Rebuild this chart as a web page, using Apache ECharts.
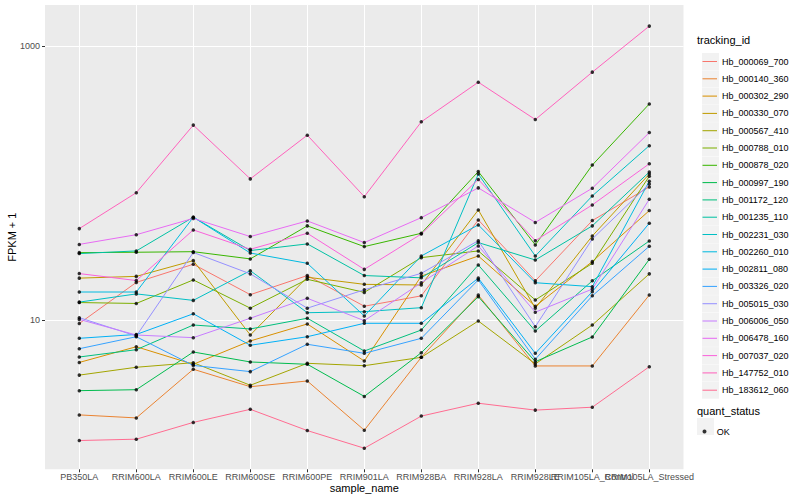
<!DOCTYPE html>
<html><head><meta charset="utf-8">
<script src="https://cdn.jsdelivr.net/npm/echarts@6/dist/echarts.min.js"></script>
<style>html,body{margin:0;padding:0;background:#fff}#c{width:800px;height:500px}</style>
</head><body><div id="c"></div>
<script>
const categories = ['PB350LA','RRIM600LA','RRIM600LE','RRIM600SE','RRIM600PE','RRIM901LA','RRIM928BA','RRIM928LA','RRIM928LE','RRIM105LA_Control','RRIM105LA_Stressed'];
const trackingIds = ['Hb_000069_700','Hb_000140_360','Hb_000302_290','Hb_000330_070','Hb_000567_410','Hb_000788_010','Hb_000878_020','Hb_000997_190','Hb_001172_120','Hb_001235_110','Hb_002231_030','Hb_002260_010','Hb_002811_080','Hb_003326_020','Hb_005015_030','Hb_006006_050','Hb_006478_160','Hb_007037_020','Hb_147752_010','Hb_183612_060'];
const colors = ['#F8766D','#EA8331','#D89000','#C09B00','#A3A500','#7CAE00','#39B600','#00BB4E','#00BF7D','#00C1A3','#00BFC4','#00BAE0','#00B0F6','#35A2FF','#9590FF','#C77CFF','#E76BF3','#FA62DB','#FF62BC','#FF6C91'];
const yTickLabels = [10, 1000];

// FPKM + 1 values per tracking_id, in category order
const hb000069_700 = [9.43, 18.8, 25.5, 15.3, 21.1, 12.6, 15.0, 53.7, 19.3, 53.1, 93.5];
const hb000140_360 = [2.03, 1.93, 4.37, 3.26, 3.59, 1.57, 5.34, 15.2, 4.62, 4.62, 15.2];
const hb000302_290 = [4.90, 6.38, 4.75, 7.03, 9.35, 5.02, 20.9, 29.3, 12.6, 26.7, 62.8];
const hb000330_070 = [20.2, 20.8, 27.1, 7.77, 20.5, 18.2, 18.0, 63.5, 12.2, 41.0, 116];
const hb000567_410 = [3.96, 4.52, 4.88, 3.34, 4.83, 4.64, 5.34, 9.83, 4.78, 9.19, 21.7];
const hb000788_010 = [13.4, 13.2, 19.6, 12.2, 19.8, 15.9, 28.5, 31.9, 14.0, 25.9, 112];
const hb000878_020 = [31.0, 31.2, 31.5, 27.9, 48.6, 34.3, 42.9, 121, 35.3, 135, 377];
const hb000997_190 = [3.05, 3.10, 5.84, 4.94, 4.75, 2.77, 5.77, 14.8, 4.96, 7.52, 27.7];
const hb001172_120 = [5.37, 6.07, 9.19, 8.60, 10.3, 5.94, 8.45, 25.2, 8.31, 19.3, 37.7];
const hb001235_110 = [30.5, 31.9, 56.2, 32.1, 35.9, 21.1, 20.3, 36.7, 27.4, 48.6, 120];
const hb002231_030 = [13.5, 15.5, 13.9, 22.9, 11.3, 11.5, 12.3, 116, 29.3, 80.4, 187];
const hb002260_010 = [16.0, 16.0, 56.2, 30.8, 25.9, 10.7, 29.3, 49.4, 18.7, 17.5, 103];
const hb002811_080 = [7.35, 7.84, 11.1, 6.54, 7.55, 9.46, 9.46, 20.2, 5.71, 16.1, 50.8];
const hb003326_020 = [6.17, 7.55, 4.66, 4.20, 6.65, 5.71, 7.35, 19.6, 5.17, 15.0, 34.5];
const hb005015_030 = [10.4, 7.64, 31.1, 21.7, 12.2, 16.6, 21.9, 37.9, 8.94, 39.0, 98.3];
const hb006006_050 = [10.1, 7.77, 7.43, 10.3, 14.4, 9.88, 18.7, 34.7, 11.4, 16.8, 76.0];
const hb006478_160 = [35.6, 41.9, 55.1, 40.6, 52.8, 36.7, 55.8, 92.0, 51.5, 91.5, 233];
const hb007037_020 = [21.8, 19.4, 45.4, 32.8, 42.9, 23.4, 42.4, 106, 37.9, 69.1, 138];
const hb147752_010 = [46.4, 84.9, 264, 107, 223, 79.4, 279, 543, 290, 643, 1393];
const hb183612_060 = [1.32, 1.35, 1.79, 2.23, 1.56, 1.16, 1.99, 2.47, 2.20, 2.31, 4.56];

const seriesValues = [hb000069_700, hb000140_360, hb000302_290, hb000330_070, hb000567_410, hb000788_010, hb000878_020, hb000997_190, hb001172_120, hb001235_110, hb002231_030, hb002260_010, hb002811_080, hb003326_020, hb005015_030, hb006006_050, hb006478_160, hb007037_020, hb147752_010, hb183612_060];

const yMin = 0.814, yMax = 1986;
const FONT = 'Liberation Sans, Arial, Helvetica, sans-serif';

const lineSeries = trackingIds.map((name, i) => ({
  name: name,
  type: 'line',
  xAxisIndex: 0, yAxisIndex: 0,
  data: seriesValues[i],
  symbol: 'none', showSymbol: false,
  itemStyle: { color: colors[i] },
  lineStyle: { color: colors[i], width: 1 },
  emphasis: { disabled: true },
  z: 2
}));

const points = [];
seriesValues.forEach(vals => vals.forEach((v, j) => points.push([j, v])));

const chart = echarts.init(document.getElementById('c'), null, { renderer: 'svg' });
chart.setOption({
  animation: false,
  textStyle: { fontFamily: FONT },
  grid: [
    { left: 79.3, top: 5, width: 570, height: 464.3, outerBoundsMode: 'none', containLabel: false },
    { left: 45, top: 5, width: 638.5, height: 464.3, show: true, backgroundColor: '#EBEBEB', borderWidth: 0, outerBoundsMode: 'none', containLabel: false }
  ],
  xAxis: [
    { type: 'category', gridIndex: 0, data: categories, boundaryGap: false,
      axisLine: { show: false },
      axisTick: { show: true, length: 3, lineStyle: { color: '#333333', width: 1 } },
      axisLabel: { interval: 0, fontSize: 9, color: '#4D4D4D', margin: 3, fontFamily: FONT },
      splitLine: { show: true, lineStyle: { color: '#FFFFFF', width: 1 } },
      name: 'sample_name', nameLocation: 'middle', nameGap: 13, nameMoveOverlap: false,
      nameTextStyle: { fontSize: 11, color: '#000', fontFamily: FONT }, z: 1 },
    { type: 'value', gridIndex: 1, show: false, min: 0, max: 1 }
  ],
  yAxis: [
    { type: 'log', gridIndex: 0, min: yMin, max: yMax, show: false, splitLine: { show: false } },
    { type: 'log', gridIndex: 1, min: yMin, max: yMax,
      axisLine: { show: false },
      axisTick: { show: true, length: 3, customValues: yTickLabels, lineStyle: { color: '#333333', width: 1 } },
      axisLabel: { fontSize: 9, color: '#4D4D4D', margin: 5, fontFamily: FONT,
        formatter: v => (yTickLabels.some(t => Math.abs(v - t) < 1e-6 * t) ? String(Math.round(v)) : '') },
      splitLine: { show: true, lineStyle: { color: '#FFFFFF', width: 1 } },
      name: 'FPKM + 1', nameLocation: 'middle', nameRotate: 90, nameGap: 27.5, nameMoveOverlap: false,
      nameTextStyle: { fontSize: 11, color: '#000', fontFamily: FONT } }
  ],
  legend: [
    { data: trackingIds, orient: 'vertical', left: 697.5, top: 48, itemWidth: 14.5, itemHeight: 17, itemGap: 0.3,
      icon: 'path://M0,0 L17,0 L17,1.2 L0,1.2 Z',
      textStyle: { fontSize: 9, color: '#000', fontFamily: FONT, lineHeight: 17 },
      selectedMode: false, z: 5 },
    { data: trackingIds, orient: 'vertical', left: 697, top: 48, itemWidth: 17, itemHeight: 17, itemGap: 0.3,
      icon: 'rect', itemStyle: { color: '#F2F2F2', borderWidth: 0 }, formatter: () => '',
      textStyle: { fontSize: 9 }, selectedMode: false, z: 3 },
    { data: ['OK'], orient: 'vertical', left: 697.5, top: 418, itemWidth: 14.5, itemHeight: 4,
      icon: 'circle',
      itemStyle: { color: '#000' },
      textStyle: { fontSize: 9, color: '#000', fontFamily: FONT, lineHeight: 17 },
      selectedMode: false, z: 5 }
  ],
  graphic: [
    { type: 'rect', left: 697, top: 418, shape: { width: 17, height: 17 }, style: { fill: '#F2F2F2' }, z: 1 },
    { type: 'text', left: 697, top: 34.5, style: { text: 'tracking_id', fontSize: 11, fill: '#000', font: '11px ' + FONT } },
    { type: 'text', left: 697, top: 405.5, style: { text: 'quant_status', fontSize: 11, fill: '#000', font: '11px ' + FONT } }
  ],
  series: lineSeries.concat([{
    name: 'OK', type: 'scatter', xAxisIndex: 0, yAxisIndex: 0,
    data: points, symbol: 'circle', symbolSize: 3.5,
    itemStyle: { color: '#000' }, emphasis: { disabled: true }, z: 3
  }])
});
</script></body></html>
